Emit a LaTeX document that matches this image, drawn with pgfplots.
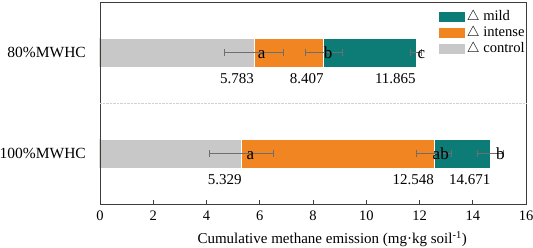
\documentclass[border=0pt]{standalone}
\usepackage{fontspec}
\setmainfont{Liberation Serif}
\usepackage{pgfplots}
\pgfplotsset{compat=1.18}
\definecolor{cteal}{RGB}{13,124,119}
\definecolor{corange}{RGB}{240,133,34}
\definecolor{cgray}{RGB}{200,200,200}
\definecolor{cframe}{RGB}{60,60,60}
\definecolor{cerr}{RGB}{110,110,110}
\begin{document}
\begin{tikzpicture}
\path[use as bounding box] (-100pt,-43pt) rectangle (433pt,204pt);
\begin{axis}[
  scale only axis, width=426pt, height=202pt,
  xmin=0, xmax=16, ymin=-0.5, ymax=1.5,
  axis on top,
  axis line style={cframe, line width=0.9pt},
  xtick={0,2,...,16}, tick pos=left,
  ytick={0,1}, yticklabels={100\%MWHC,80\%MWHC},
  ytick style={draw=none},
  xtick style={cframe, line width=0.8pt},
  major tick length=4pt,
  /pgf/number format/assume math mode=true,
  xticklabel style={font=\fontsize{14.5}{16}\selectfont, anchor=base, yshift=-16pt},
  yticklabel style={font=\fontsize{15.5}{17}\selectfont, inner sep=0pt, xshift=-14pt},
  xlabel={Cumulative methane emission (mg\textperiodcentered kg soil\textsuperscript{-1})},
  xlabel style={font=\fontsize{15}{17}\selectfont, at={(axis description cs:0.545,0)}, anchor=base, yshift=-39.3pt},
  extra y ticks={0.5}, extra y tick labels={},
  extra y tick style={grid=major, major grid style={densely dotted, gray!35, line width=0.6pt}, tick style={draw=none}},
  legend style={at={(axis description cs:0.793,0.963)}, anchor=north west, draw=none, fill=none,
    inner sep=0pt, font=\fontsize{14.6}{16}\selectfont,
    nodes={inner sep=1pt, text height=10pt, text depth=3pt}, row sep=1pt},
  legend cell align=left,
  legend image code/.code={\fill[#1] (0pt,-5.5pt) rectangle (27pt,5.5pt);},
]
\addplot[xbar, bar width=29pt, bar shift=0pt, fill=cteal, draw=white, line width=0.8pt]
  coordinates {(11.865,1) (14.671,0)};
\addlegendentry{$\triangle$ mild}
\addplot[xbar, bar width=29pt, bar shift=0pt, fill=corange, draw=white, line width=0.8pt]
  coordinates {(8.407,1) (12.548,0)};
\addlegendentry{$\triangle$ intense}
\addplot[xbar, bar width=29pt, bar shift=0pt, fill=cgray, draw=white, line width=0.8pt]
  coordinates {(5.783,1) (5.329,0)};
\addlegendentry{$\triangle$ control}
% error bars
\addplot[draw=none, mark=none, forget plot,
  error bars/.cd, x dir=both, x explicit,
  error bar style={cerr, line width=0.9pt},
  error mark=|, error mark options={cerr, mark size=3.5pt, line width=0.9pt}]
  coordinates {(5.783,1) +- (1.12,0) (8.407,1) +- (0.69,0) (11.865,1) +- (0.2,0)
               (5.329,0) +- (1.2,0) (12.548,0) +- (0.67,0) (14.671,0) +- (0.48,0)};
% significance letters
\addplot[draw=none, mark=none, forget plot, nodes near coords, point meta=explicit symbolic,
  nodes near coords style={anchor=base west, yshift=-6pt, inner sep=0pt, text=black,
    font=\fontsize{17}{19}\selectfont}]
  coordinates {(5.92,1)[a] (8.40,1)[b] (11.92,1)[c] (5.50,0)[a] (12.49,0)[ab] (14.87,0)[b]};
% value labels
\addplot[draw=none, mark=none, forget plot, nodes near coords, point meta=explicit symbolic,
  nodes near coords style={anchor=north east, yshift=-20.5pt, inner sep=0pt, text=black,
    font=\fontsize{15}{17}\selectfont}]
  coordinates {(5.783,1)[5.783] (8.407,1)[8.407] (11.865,1)[11.865]
               (5.329,0)[5.329] (12.548,0)[12.548] (14.671,0)[14.671]};
\end{axis}
\end{tikzpicture}
\end{document}
